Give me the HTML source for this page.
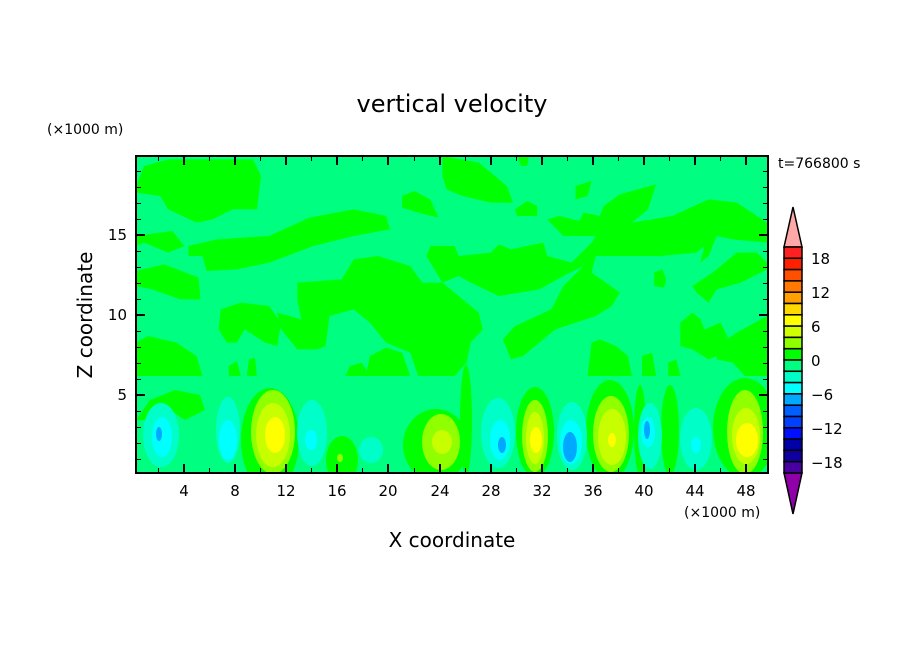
<!DOCTYPE html>
<html><head><meta charset="utf-8"><style>
body{margin:0;background:#fff;}
svg{display:block;font-family:"DejaVu Sans","Liberation Sans",sans-serif;}
</style></head><body>
<svg width="904" height="654" viewBox="0 0 904 654" xmlns="http://www.w3.org/2000/svg">
<rect width="904" height="654" fill="#fff"/>
<defs><clipPath id="pc"><rect x="136" y="156" width="632" height="317"/></clipPath></defs>
<g clip-path="url(#pc)">
<rect x="136" y="156" width="632" height="317" fill="#00ff80"/>
<g transform="translate(136,156) scale(0.4032,0.3333)" fill="#00ff00">
<path d="M0,90 L20,30 L80,10 L290,10 L310,60 L300,160 L240,160 L190,190 L150,200 L80,160 L60,120 L0,110 Z"/>
<path d="M130,270 L200,250 L330,240 L430,185 L540,160 L620,180 L630,220 L540,240 L440,270 L330,320 L250,340 L175,345 L165,300 L130,300 Z"/>
<path d="M0,240 L90,225 L120,270 L80,290 L20,260 L0,270 Z"/>
<path d="M0,345 L70,325 L155,365 L160,430 L110,430 L40,400 L0,390 Z"/>
<path d="M760,0 L850,20 L920,90 L935,140 L880,140 L810,120 L770,100 L760,60 Z"/>
<path d="M660,120 L690,105 L730,130 L750,185 L700,170 L660,155 Z"/>
<path d="M940,160 L970,135 L995,150 L995,180 L945,180 Z"/>
<path d="M945,0 L975,0 L970,30 L955,30 Z"/>
<path d="M1090,90 L1130,75 L1120,120 L1090,130 Z"/>
<path d="M1020,190 L1050,180 L1100,195 L1110,170 L1150,180 L1160,150 L1200,115 L1290,85 L1270,160 L1230,200 L1330,180 L1420,130 L1490,140 L1565,200 L1565,260 L1480,250 L1440,240 L1420,300 L1400,320 L1410,270 L1390,290 L1300,300 L1200,300 L1140,300 L1130,350 L1200,410 L1180,450 L1140,480 L1040,520 L960,600 L930,610 L910,550 L940,510 L1030,460 L1060,390 L1110,330 L1060,360 L1000,400 L900,420 L830,380 L800,360 L760,380 L720,300 L730,270 L790,270 L800,300 L880,290 L900,265 L930,280 L1010,260 L1020,300 L1080,320 L1130,260 L1140,240 L1060,240 Z"/>
<path d="M400,380 L510,370 L540,310 L600,300 L680,330 L710,380 L760,380 L800,420 L850,470 L860,520 L830,560 L820,620 L790,660 L700,660 L680,590 L620,560 L580,500 L540,460 L480,480 L470,570 L450,580 L400,580 L360,520 L350,470 L410,490 L400,430 Z"/>
<path d="M210,460 L260,440 L330,450 L360,500 L350,570 L320,560 L270,520 L250,560 L225,560 L205,520 Z"/>
<path d="M0,560 L30,540 L100,560 L150,600 L165,660 L0,660 Z"/>
<path d="M530,630 L560,620 L580,660 L520,660 Z"/>
<path d="M580,600 L620,575 L660,590 L680,660 L570,660 Z"/>
<path d="M1350,500 L1380,470 L1400,490 L1410,520 L1450,500 L1470,550 L1440,600 L1420,610 L1380,580 L1350,570 Z"/>
<path d="M1440,570 L1490,530 L1565,480 L1565,660 L1510,660 L1480,620 L1440,610 Z"/>
<path d="M1380,390 L1430,350 L1490,290 L1540,290 L1565,320 L1565,340 L1500,380 L1440,400 L1420,440 L1390,410 Z"/>
<path d="M1285,350 L1305,340 L1315,370 L1310,395 L1285,390 Z"/>
<path d="M1130,560 L1150,550 L1190,570 L1220,600 L1230,660 L1120,660 Z"/>
<path d="M1255,600 L1280,590 L1290,660 L1255,660 Z"/>
<path d="M1320,620 L1340,610 L1350,660 L1320,660 Z"/>
<path d="M230,630 L250,615 L260,660 L230,660 Z"/>
<path d="M280,610 L295,605 L300,660 L275,660 Z"/>
</g>
<g fill="#00ff00">
<path d="M136,420 L150,400 L175,390 L200,395 L205,410 L185,420 L170,410 L150,420 Z"/>
<ellipse cx="270" cy="440" rx="29" ry="52"/>
<ellipse cx="342" cy="460" rx="16" ry="24"/>
<ellipse cx="436" cy="445" rx="33" ry="36"/>
<ellipse cx="466" cy="420" rx="6" ry="55"/>
<ellipse cx="535" cy="432" rx="19" ry="45"/>
<ellipse cx="610" cy="430" rx="24" ry="50"/>
<ellipse cx="640" cy="430" rx="6" ry="45"/>
<ellipse cx="670" cy="430" rx="9" ry="45"/>
<ellipse cx="745" cy="428" rx="32" ry="50"/>
</g>
<g fill="#90ff00">
<ellipse cx="273" cy="432" rx="22" ry="42"/>
<ellipse cx="441" cy="442" rx="19" ry="28"/>
<ellipse cx="535" cy="436" rx="13" ry="36"/>
<ellipse cx="611" cy="434" rx="18" ry="38"/>
<ellipse cx="745" cy="432" rx="18" ry="42"/>
<ellipse cx="340" cy="458" rx="3" ry="4"/>
</g>
<g fill="#c8ff00">
<ellipse cx="273" cy="435" rx="17" ry="32"/>
<ellipse cx="442" cy="442" rx="10" ry="12"/>
<ellipse cx="535" cy="438" rx="9" ry="26"/>
<ellipse cx="612" cy="437" rx="14" ry="28"/>
<ellipse cx="746" cy="436" rx="14" ry="28"/>
</g>
<g fill="#ffff00">
<ellipse cx="275" cy="435" rx="10" ry="18"/>
<ellipse cx="536" cy="440" rx="6" ry="13"/>
<ellipse cx="612" cy="440" rx="4" ry="7"/>
<ellipse cx="747" cy="440" rx="11" ry="17"/>
</g>
<g fill="#00ffc8">
<ellipse cx="161" cy="435" rx="18" ry="32"/>
<ellipse cx="228" cy="430" rx="12" ry="33"/>
<ellipse cx="312" cy="433" rx="15" ry="33"/>
<ellipse cx="371" cy="450" rx="12" ry="13"/>
<ellipse cx="498" cy="433" rx="17" ry="35"/>
<ellipse cx="572" cy="436" rx="15" ry="34"/>
<ellipse cx="650" cy="436" rx="12" ry="33"/>
<ellipse cx="696" cy="439" rx="16" ry="31"/>
</g>
<g fill="#00ffff">
<ellipse cx="162" cy="437" rx="10" ry="20"/>
<ellipse cx="228" cy="440" rx="9" ry="20"/>
<ellipse cx="311" cy="440" rx="6" ry="10"/>
<ellipse cx="500" cy="440" rx="10" ry="20"/>
<ellipse cx="571" cy="442" rx="11" ry="22"/>
<ellipse cx="648" cy="432" rx="7" ry="15"/>
<ellipse cx="696" cy="445" rx="5" ry="8"/>
</g>
<g fill="#00a8ff">
<ellipse cx="159" cy="434" rx="3" ry="7"/>
<ellipse cx="502" cy="445" rx="4" ry="8"/>
<ellipse cx="570" cy="447" rx="7" ry="15"/>
<ellipse cx="647" cy="430" rx="3" ry="9"/>
</g>
</g>
<rect x="136" y="156" width="632" height="317" fill="none" stroke="#000" stroke-width="2"/>
<g stroke="#000" stroke-width="1">
<path d="M158.5,473v-5M209.5,473v-5M260.5,473v-5M311.5,473v-5M362.5,473v-5M414.5,473v-5M465.5,473v-5M516.5,473v-5M567.5,473v-5M618.5,473v-5M669.5,473v-5M720.5,473v-5
M158.5,156v5M209.5,156v5M260.5,156v5M311.5,156v5M362.5,156v5M414.5,156v5M465.5,156v5M516.5,156v5M567.5,156v5M618.5,156v5M669.5,156v5M720.5,156v5"/>
<path d="M136,459.5h5M136,443.5h5M136,427.5h5M136,411.5h5M136,379.5h5M136,363.5h5M136,347.5h5M136,331.5h5M136,299.5h5M136,283.5h5M136,267.5h5M136,251.5h5M136,219.5h5M136,203.5h5M136,187.5h5M136,171.5h5
M768,459.5h-5M768,443.5h-5M768,427.5h-5M768,411.5h-5M768,379.5h-5M768,363.5h-5M768,347.5h-5M768,331.5h-5M768,299.5h-5M768,283.5h-5M768,267.5h-5M768,251.5h-5M768,219.5h-5M768,203.5h-5M768,187.5h-5M768,171.5h-5"/>
</g>
<g stroke="#000" stroke-width="2">
<path d="M184,473v-9M235,473v-9M286,473v-9M337,473v-9M388,473v-9M440,473v-9M491,473v-9M542,473v-9M593,473v-9M644,473v-9M695,473v-9M746,473v-9
M184,156v9M235,156v9M286,156v9M337,156v9M388,156v9M440,156v9M491,156v9M542,156v9M593,156v9M644,156v9M695,156v9M746,156v9"/>
<path d="M136,395h9M136,315h9M136,235h9M768,395h-9M768,315h-9M768,235h-9"/>
</g>
<g font-size="15" fill="#000" text-anchor="middle">
<text x="184" y="496">4</text><text x="235" y="496">8</text><text x="286" y="496">12</text><text x="337" y="496">16</text><text x="388" y="496">20</text><text x="440" y="496">24</text><text x="491" y="496">28</text><text x="542" y="496">32</text><text x="593" y="496">36</text><text x="644" y="496">40</text><text x="695" y="496">44</text><text x="746" y="496">48</text>
</g>
<g font-size="15" fill="#000" text-anchor="end">
<text x="127" y="400">5</text><text x="127" y="320">10</text><text x="127" y="240">15</text>
</g>
<text x="452" y="112" font-size="24" text-anchor="middle">vertical velocity</text>
<text x="452" y="547" font-size="20" text-anchor="middle">X coordinate</text>
<text transform="translate(92,315) rotate(-90)" font-size="20" text-anchor="middle">Z coordinate</text>
<text x="47" y="134" font-size="14">(×1000 m)</text>
<text x="684" y="517" font-size="14">(×1000 m)</text>
<text x="778" y="168" font-size="14">t=766800 s</text>
<g stroke="#000" stroke-width="1.5">
<path d="M793,207 L802,247 L784,247 Z" fill="#ffa8a8"/>
<path d="M784,473 L802,473 L793,514 Z" fill="#9000a8"/>
<rect x="784" y="247.0" width="18" height="11.3" fill="#ff2020"/>
<rect x="784" y="258.3" width="18" height="11.3" fill="#ff2000"/>
<rect x="784" y="269.6" width="18" height="11.3" fill="#ff5000"/>
<rect x="784" y="280.9" width="18" height="11.3" fill="#ff7800"/>
<rect x="784" y="292.2" width="18" height="11.3" fill="#ffa000"/>
<rect x="784" y="303.5" width="18" height="11.3" fill="#ffd800"/>
<rect x="784" y="314.8" width="18" height="11.3" fill="#ffff00"/>
<rect x="784" y="326.1" width="18" height="11.3" fill="#d0ff00"/>
<rect x="784" y="337.4" width="18" height="11.3" fill="#90ff00"/>
<rect x="784" y="348.7" width="18" height="11.3" fill="#00ff00"/>
<rect x="784" y="360.0" width="18" height="11.3" fill="#00ff80"/>
<rect x="784" y="371.3" width="18" height="11.3" fill="#00ffc8"/>
<rect x="784" y="382.6" width="18" height="11.3" fill="#00ffff"/>
<rect x="784" y="393.9" width="18" height="11.3" fill="#00a8ff"/>
<rect x="784" y="405.2" width="18" height="11.3" fill="#0060ff"/>
<rect x="784" y="416.5" width="18" height="11.3" fill="#0040ff"/>
<rect x="784" y="427.8" width="18" height="11.3" fill="#0010ff"/>
<rect x="784" y="439.1" width="18" height="11.3" fill="#0000a8"/>
<rect x="784" y="450.4" width="18" height="11.3" fill="#1000a0"/>
<rect x="784" y="461.7" width="18" height="11.3" fill="#4800a0"/>
</g>
<g font-size="15" fill="#000">
<text x="811" y="264">18</text><text x="811" y="298">12</text><text x="811" y="332">6</text><text x="811" y="366">0</text><text x="811" y="400">−6</text><text x="811" y="434">−12</text><text x="811" y="468">−18</text>
</g>
</svg>
</body></html>
